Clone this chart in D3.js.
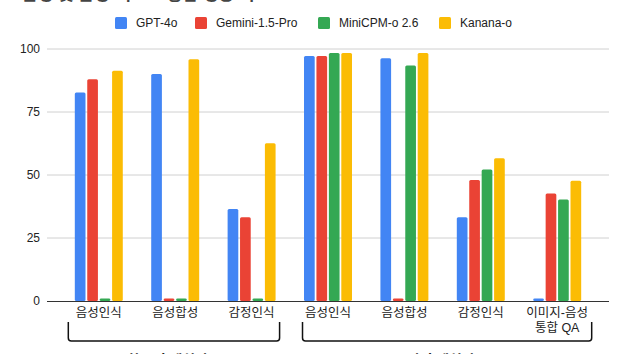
<!DOCTYPE html>
<html>
<head>
<meta charset="utf-8">
<script src="https://cdn.jsdelivr.net/npm/d3@7"></script>
<style>
  body { margin: 0; background: #fff; }
  text { font-family: "Liberation Sans", "Noto Sans CJK KR", sans-serif; }
</style>
</head>
<body>
<div id="chart"></div>
<script>
// data
const categories = ["음성인식 KR", "음성합성 KR", "감정인식 KR", "음성인식 EN", "음성합성 EN", "감정인식 EN", "이미지-음성 통합 QA"];
const categoryLabels = [["음성인식"], ["음성합성"], ["감정인식"], ["음성인식"], ["음성합성"], ["감정인식"], ["이미지-음성", "통합 QA"]];
const seriesNames = ["GPT-4o", "Gemini-1.5-Pro", "MiniCPM-o 2.6", "Kanana-o"];
const gpt4o = [82.7, 90.1, 36.5, 97.2, 96.3, 33.2, 1.0];
const gemini = [88.0, 1.0, 33.2, 97.2, 1.0, 48.0, 42.7];
const minicpm = [1.0, 1.0, 1.0, 98.4, 93.5, 52.2, 40.3];
const kanana = [91.4, 95.9, 62.6, 98.4, 98.4, 56.6, 47.7];
const yTicks = [0, 25, 50, 75, 100];
const groupNames = ["한국어 벤치마크", "영어 벤치마크"];
const groupFrom = [0, 3];
const groupTo = [2, 6];
const colors = ["#4285F4", "#EA4335", "#34A853", "#FBBC04"];

const seriesValues = [gpt4o, gemini, minicpm, kanana];
const rows = categories.map((c, i) => ({
    cat: c,
    values: seriesNames.map((s, j) => ({ key: s, value: seriesValues[j][i] }))
}));

const width = 630, height = 354;
const margin = { top: 49, right: 21, bottom: 53, left: 47 };

const svg = d3.select("#chart").append("svg")
    .attr("width", width)
    .attr("height", height);

const x0 = d3.scaleBand()
    .domain(categories)
    .range([margin.left, width - margin.right])
    .paddingInner(0.372)
    .paddingOuter(0.364);

const x1 = d3.scaleBand()
    .domain(seriesNames)
    .range([0, x0.bandwidth()])
    .paddingInner(0.14);

const y = d3.scaleLinear()
    .domain([0, 100])
    .range([height - margin.bottom, margin.top]);

const color = d3.scaleOrdinal().domain(seriesNames).range(colors);

// title (cut off at the top of the picture)
svg.append("text")
    .attr("x", 22)
    .attr("y", 0)
    .style("font-size", "17px")
    .style("font-weight", "bold")
    .attr("fill", "#444")
    .text("음성 및 음성-텍스트 통합 성능 비교");

// grid
svg.append("g")
    .selectAll("line")
    .data(yTicks.filter(d => d > 0))
    .join("line")
    .attr("x1", margin.left)
    .attr("x2", width - margin.right)
    .attr("y1", d => y(d))
    .attr("y2", d => y(d))
    .attr("stroke", "#d0d0d0")
    .attr("stroke-width", 1);

// y axis labels
svg.append("g")
    .selectAll("text")
    .data(yTicks)
    .join("text")
    .attr("x", margin.left - 7)
    .attr("y", d => y(d))
    .attr("dy", "0.35em")
    .attr("text-anchor", "end")
    .style("font-size", "12px")
    .attr("fill", "#222")
    .text(d => d);

// bars
svg.append("g")
    .selectAll("g")
    .data(rows)
    .join("g")
    .attr("transform", d => `translate(${x0(d.cat)},0)`)
    .selectAll("rect")
    .data(d => d.values)
    .join("rect")
    .attr("x", d => x1(d.key))
    .attr("y", d => y(d.value))
    .attr("width", x1.bandwidth())
    .attr("height", d => y(0) - y(d.value))
    .attr("rx", 1.5)
    .attr("fill", d => color(d.key));

// baseline
svg.append("line")
    .attr("x1", margin.left)
    .attr("x2", width - margin.right)
    .attr("y1", y(0) + 0.5)
    .attr("y2", y(0) + 0.5)
    .attr("stroke", "#333")
    .attr("stroke-width", 1.2);

// x labels
svg.append("g")
    .selectAll("text")
    .data(categories)
    .join("text")
    .attr("x", d => x0(d) + x0.bandwidth() / 2)
    .attr("y", 317)
    .attr("text-anchor", "middle")
    .style("font-size", "12.5px")
    .attr("fill", "#222")
    .each(function(d, i) {
        const t = d3.select(this);
        categoryLabels[i].forEach((line, k) => {
            t.append("tspan")
                .attr("x", x0(d) + x0.bandwidth() / 2)
                .attr("dy", k === 0 ? 0 : 15)
                .text(line);
        });
    });

// group brackets (hand-drawn look: slightly uneven padding)
const bracketPad = [[-6.5, 4], [-1.5, 10.5]];
groupNames.forEach((name, gi) => {
    const left = x0(categories[groupFrom[gi]]) + bracketPad[gi][0];
    const right = x0(categories[groupTo[gi]]) + x0.bandwidth() + bracketPad[gi][1];
    const top = 322, bottom = 341, r = 3;
    svg.append("path")
        .attr("d", `M${left},${top} V${bottom - r} Q${left},${bottom} ${left + r},${bottom} H${right - r} Q${right},${bottom} ${right},${bottom - r} V${top}`)
        .attr("fill", "none")
        .attr("stroke", "#111")
        .attr("stroke-width", 1.5);
    svg.append("text")
        .attr("x", (left + right) / 2)
        .attr("y", 365)
        .attr("text-anchor", "middle")
        .style("font-size", "14px")
        .style("font-weight", "bold")
        .attr("fill", "#222")
        .text(name);
});

// legend
const legendX = [115, 195, 318, 439];
const legend = svg.append("g")
    .selectAll("g")
    .data(seriesNames)
    .join("g")
    .attr("transform", (d, i) => `translate(${legendX[i]},17)`);

legend.append("rect")
    .attr("width", 12)
    .attr("height", 12)
    .attr("rx", 1.5)
    .attr("fill", d => color(d));

legend.append("text")
    .attr("x", 21)
    .attr("y", 6)
    .attr("dy", "0.35em")
    .style("font-size", "12px")
    .attr("fill", "#222")
    .text(d => d);
</script>
</body>
</html>
